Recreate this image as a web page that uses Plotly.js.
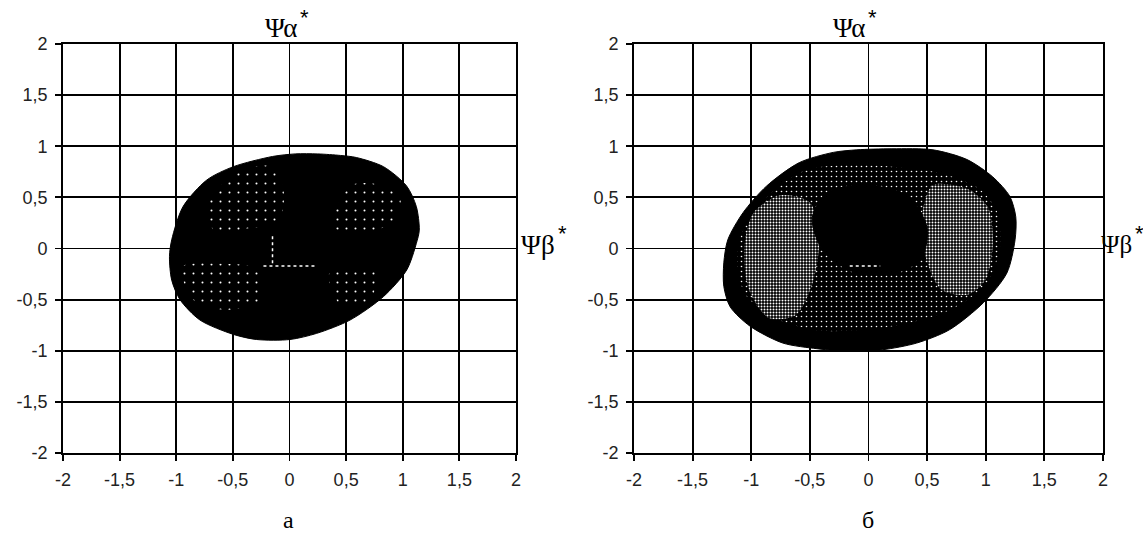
<!DOCTYPE html>
<html><head><meta charset="utf-8">
<script src="https://cdn.plot.ly/plotly-3.0.1.min.js"></script>
<style>html,body{margin:0;padding:0;background:#fff}#c{width:1143px;height:533px}</style>
</head><body><div id="c"></div>
<script>
// tick values / labels
const tickVals = [-2, -1.5, -1, -0.5, 0, 0.5, 1, 1.5, 2];
const tickText = ['-2', '-1,5', '-1', '-0,5', '0', '0,5', '1', '1,5', '2'];
const panelLabels = ['а', 'б'];
const axisNames = ['Ψα', 'Ψβ'];
const starMark = '*';

// panel а : outer boundary of the trajectory region
const aOuterX = [-0.15, 0.05, 0.25, 0.45, 0.59, 0.83, 1.035, 1.12, 1.146, 1.12, 1.035, 0.83, 0.534, 0.24, 0.004, -0.29, -0.496, -0.79, -0.967, -1.04, -1.06, -1.04, -0.94, -0.73, -0.496, -0.15];
const aOuterY = [0.90, 0.925, 0.925, 0.91, 0.89, 0.80, 0.61, 0.41, 0.18, 0.05, -0.21, -0.47, -0.70, -0.83, -0.89, -0.89, -0.84, -0.70, -0.50, -0.31, -0.08, 0.085, 0.41, 0.67, 0.80, 0.90];
// panel а : sparse white-dot clusters
const aDots1X = [-0.72, -0.45, -0.15, -0.05, -0.10, -0.35, -0.65, -0.72];
const aDots1Y = [0.45, 0.75, 0.80, 0.55, 0.25, 0.20, 0.15, 0.45];
const aDots2X = [0.40, 0.55, 0.80, 0.98, 0.90, 0.60, 0.40, 0.40];
const aDots2Y = [0.35, 0.62, 0.62, 0.48, 0.25, 0.15, 0.20, 0.35];
const aDots3X = [-0.95, -0.60, -0.30, -0.25, -0.55, -0.85, -0.95];
const aDots3Y = [-0.18, -0.15, -0.20, -0.50, -0.60, -0.50, -0.18];
const aDots4X = [0.35, 0.75, 0.70, 0.45, 0.35];
const aDots4Y = [-0.25, -0.20, -0.55, -0.55, -0.25];
const aLineX = [-0.15, -0.15, null, -0.23, 0.24];
const aLineY = [0.12, -0.17, null, -0.17, -0.17];

// panel б : outer boundary
const bOuterX = [-0.30, -0.10, 0.20, 0.55, 0.84, 1.06, 1.205, 1.256, 1.25, 1.18, 0.98, 0.69, 0.41, 0.12, -0.10, -0.30, -0.44, -0.73, -1.01, -1.18, -1.234, -1.234, -1.20, -1.07, -0.87, -0.59, -0.30];
const bOuterY = [0.94, 0.965, 0.975, 0.965, 0.87, 0.70, 0.51, 0.31, 0.085, -0.24, -0.53, -0.795, -0.925, -0.99, -1.0, -0.995, -0.98, -0.925, -0.76, -0.57, -0.37, -0.14, 0.085, 0.35, 0.61, 0.84, 0.94];
// panel б : textured ring
const bRingX = [-0.55, -0.20, 0.20, 0.60, 0.95, 1.10, 1.12, 1.00, 0.70, 0.30, -0.10, -0.45, -0.80, -1.05, -1.12, -1.08, -0.85, -0.55];
const bRingY = [0.76, 0.82, 0.80, 0.74, 0.58, 0.35, 0.00, -0.35, -0.60, -0.74, -0.80, -0.80, -0.68, -0.45, -0.15, 0.15, 0.52, 0.76];
// panel б : dense lobes
const bLobeLX = [-0.75, -0.50, -0.42, -0.48, -0.62, -0.85, -1.02, -1.06, -0.98, -0.75];
const bLobeLY = [0.52, 0.45, 0.10, -0.35, -0.65, -0.68, -0.40, 0.00, 0.35, 0.52];
const bLobeRX = [0.55, 0.85, 1.02, 1.06, 1.00, 0.85, 0.62, 0.48, 0.46, 0.55];
const bLobeRY = [0.62, 0.58, 0.40, 0.05, -0.30, -0.45, -0.40, -0.05, 0.35, 0.62];
// panel б : black core
const bCoreX = [-0.35, 0.00, 0.35, 0.50, 0.45, 0.20, -0.15, -0.40, -0.48, -0.35];
const bCoreY = [0.55, 0.62, 0.50, 0.20, -0.10, -0.25, -0.22, 0.00, 0.30, 0.55];
const bLineX = [-0.16, 0.10];
const bLineY = [-0.17, -0.17];

function area(x, y, ax, pat) {
  const t = {x: x, y: y, xaxis: ax[0], yaxis: ax[1], mode: 'lines', fill: 'toself',
    line: {width: pat ? 0 : 1, color: '#000', shape: 'spline', smoothing: 0.8},
    fillcolor: '#000', hoverinfo: 'skip', showlegend: false};
  if (pat) t.fillpattern = pat;
  return t;
}
const sparse = {shape: '.', fgcolor: '#fff', bgcolor: '#000', size: 9, solidity: 0.04};
const ring = {shape: '.', fgcolor: '#fff', bgcolor: '#000', size: 5, solidity: 0.08};
const dense = {shape: '.', fgcolor: '#fff', bgcolor: '#000', size: 3, solidity: 0.33};
const A = ['x', 'y'], B = ['x2', 'y2'];
const data = [
  area(aOuterX, aOuterY, A),
  area(aDots1X, aDots1Y, A, sparse),
  area(aDots2X, aDots2Y, A, sparse),
  area(aDots3X, aDots3Y, A, sparse),
  area(aDots4X, aDots4Y, A, sparse),
  {x: aLineX, y: aLineY, xaxis: 'x', yaxis: 'y', mode: 'lines', line: {color: '#fff', width: 1.5, dash: 'dot'}, hoverinfo: 'skip', showlegend: false},
  area(bOuterX, bOuterY, B),
  area(bRingX, bRingY, B, ring),
  area(bLobeLX, bLobeLY, B, dense),
  area(bLobeRX, bLobeRY, B, dense),
  area(bCoreX, bCoreY, B),
  {x: bLineX, y: bLineY, xaxis: 'x2', yaxis: 'y2', mode: 'lines', line: {color: '#fff', width: 1.5, dash: 'dot'}, hoverinfo: 'skip', showlegend: false}
];

const tickFont = {family: 'Liberation Sans, Arial, sans-serif', size: 18, color: '#222'};
function axis(dom, anchor) {
  return {domain: dom, anchor: anchor, range: [-2, 2], tickmode: 'array', tickvals: tickVals, ticktext: tickText,
    showgrid: true, gridcolor: '#000', gridwidth: 1.8, zeroline: false,
    showline: true, mirror: true, linecolor: '#000', linewidth: 1.8,
    ticks: 'outside', ticklen: 6, tickwidth: 1.8, tickcolor: '#000', tickfont: tickFont,
    ticklabelstandoff: 4, fixedrange: true};
}
const symFont = {family: 'Liberation Serif, Times New Roman, serif', size: 27, color: '#000'};
const symFontR = {family: 'Liberation Serif, Times New Roman, serif', size: 25, color: '#000'};
const starFont = {family: 'Liberation Sans, Arial, sans-serif', size: 22, color: '#000'};
const labFont = {family: 'Liberation Serif, Times New Roman, serif', size: 24, color: '#000'};
function ann(x, y, text, font, xa, xs) {
  return {xref: 'paper', yref: 'paper', x: x, y: y, text: text, font: font, showarrow: false,
    xanchor: xa || 'center', yanchor: 'middle', xshift: xs || 0, borderpad: 0};
}
const layout = {
  width: 1143, height: 533, margin: {l: 0, r: 0, t: 44, b: 80},
  paper_bgcolor: '#fff', plot_bgcolor: '#fff', showlegend: false,
  xaxis: axis([63 / 1143, 516 / 1143], 'y'),
  yaxis: axis([0, 1], 'x'),
  xaxis2: axis([634 / 1143, 1103 / 1143], 'y2'),
  yaxis2: axis([0, 1], 'x2'),
  annotations: [
    ann(298 / 1143, 1.039, axisNames[0], symFont, 'right'),
    ann(298 / 1143, 1.066, starMark, starFont, 'left', 1),
    ann(556 / 1143, 0.5086, axisNames[1], symFont, 'right'),
    ann(556 / 1143, 0.536, starMark, starFont, 'left', 1),
    ann(866 / 1143, 1.039, axisNames[0], symFont, 'right'),
    ann(866 / 1143, 1.066, starMark, starFont, 'left', 1),
    ann(1133 / 1143, 0.5086, axisNames[1], symFontR, 'right'),
    ann(1133 / 1143, 0.536, starMark, starFont, 'left', 1),
    ann(0.252, -0.1638, panelLabels[0], labFont),
    ann(0.7594, -0.1638, panelLabels[1], labFont)
  ]
};
Plotly.newPlot('c', data, layout, {staticPlot: true, displayModeBar: false});
</script></body></html>
